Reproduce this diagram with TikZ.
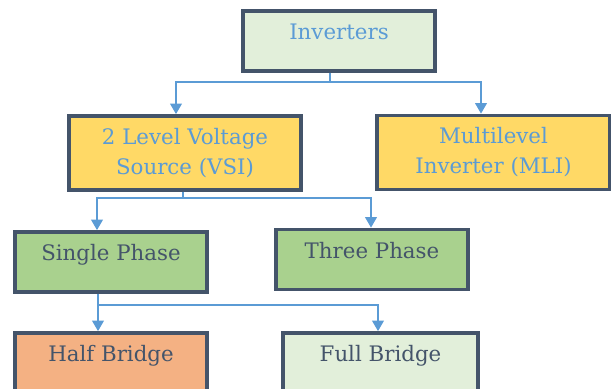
\documentclass[tikz,border=0pt]{standalone}
\usepackage{fontspec}
\setmainfont{DejaVu Serif}
\usetikzlibrary{arrows.meta,calc}

\definecolor{slate}{HTML}{44546A}
\definecolor{wire}{HTML}{5B9BD5}
\definecolor{paleGreen}{HTML}{E2EFDA}
\definecolor{gold}{HTML}{FFD966}
\definecolor{leaf}{HTML}{A9D18E}
\definecolor{peach}{HTML}{F4B183}

\tikzset{every picture/.style={line width=0.75pt}}
\tikzset{
  box/.style={draw=slate, line width=2.6pt, inner xsep=0pt, align=center,
    font=\fontsize{16}{22.5}\selectfont},
  onerow/.style={inner ysep=0pt, text height=21.4pt, text depth=23.6pt},
  tworow/.style={inner ysep=0pt, minimum height=55.5pt},
  wireline/.style={draw=wire, line width=2.1pt},
  link/.style={wireline, -{Triangle[length=8pt,width=8.5pt]}},
}

\begin{document}
\begin{tikzpicture}[x=0.75pt,y=0.75pt,yscale=-1,xscale=1]
        \useasboundingbox (0,0) rectangle (611,389);

        %Boxes
        \node[box, onerow, fill=paleGreen, text=wire, minimum width=144pt] (inv) at (339,41) {Inverters};
        \node[box, tworow, fill=gold, text=wire, minimum width=174pt] (vsi) at (185,153) {2 Level Voltage\\Source (VSI)};
        \node[box, tworow, fill=gold, text=wire, minimum width=174.75pt] (mli) at (493.5,152.5) {Multilevel\\Inverter (MLI)};
        \node[box, onerow, fill=leaf, text=slate, minimum width=144pt] (sp) at (111,262) {Single Phase};
        \node[box, onerow, fill=leaf, text=slate, minimum width=144pt] (tp) at (372,259.5) {Three Phase};
        \node[box, onerow, fill=peach, text=slate, minimum width=144pt] (hb) at (111,363) {Half Bridge};
        \node[box, onerow, fill=paleGreen, text=slate, minimum width=146.25pt] (fb) at (380.5,363) {Full Bridge};

        %Forks
        \coordinate (fork1) at (330,82);
        \coordinate (fork2) at (183,198);
        \coordinate (fork3) at (98,305);

        %Connectors
        \draw[wireline] (inv.south -| fork1) -- (fork1);
        \draw[link] (fork1) -| ($(vsi.north)+(-9,0)$);
        \draw[link] (fork1) -| ($(mli.north)+(-12.5,0)$);
        \draw[wireline] (vsi.south -| fork2) -- (fork2);
        \draw[link] (fork2) -| ($(sp.north)+(-14,0)$);
        \draw[link] (fork2) -| ($(tp.north)+(-1,0)$);
        \draw[wireline] (sp.south -| fork3) -- (fork3);
        \draw[link] (fork3) -- (hb.north -| fork3);
        \draw[link] (fork3) -| ($(fb.north)+(-2.5,0)$);

\end{tikzpicture}
\end{document}
